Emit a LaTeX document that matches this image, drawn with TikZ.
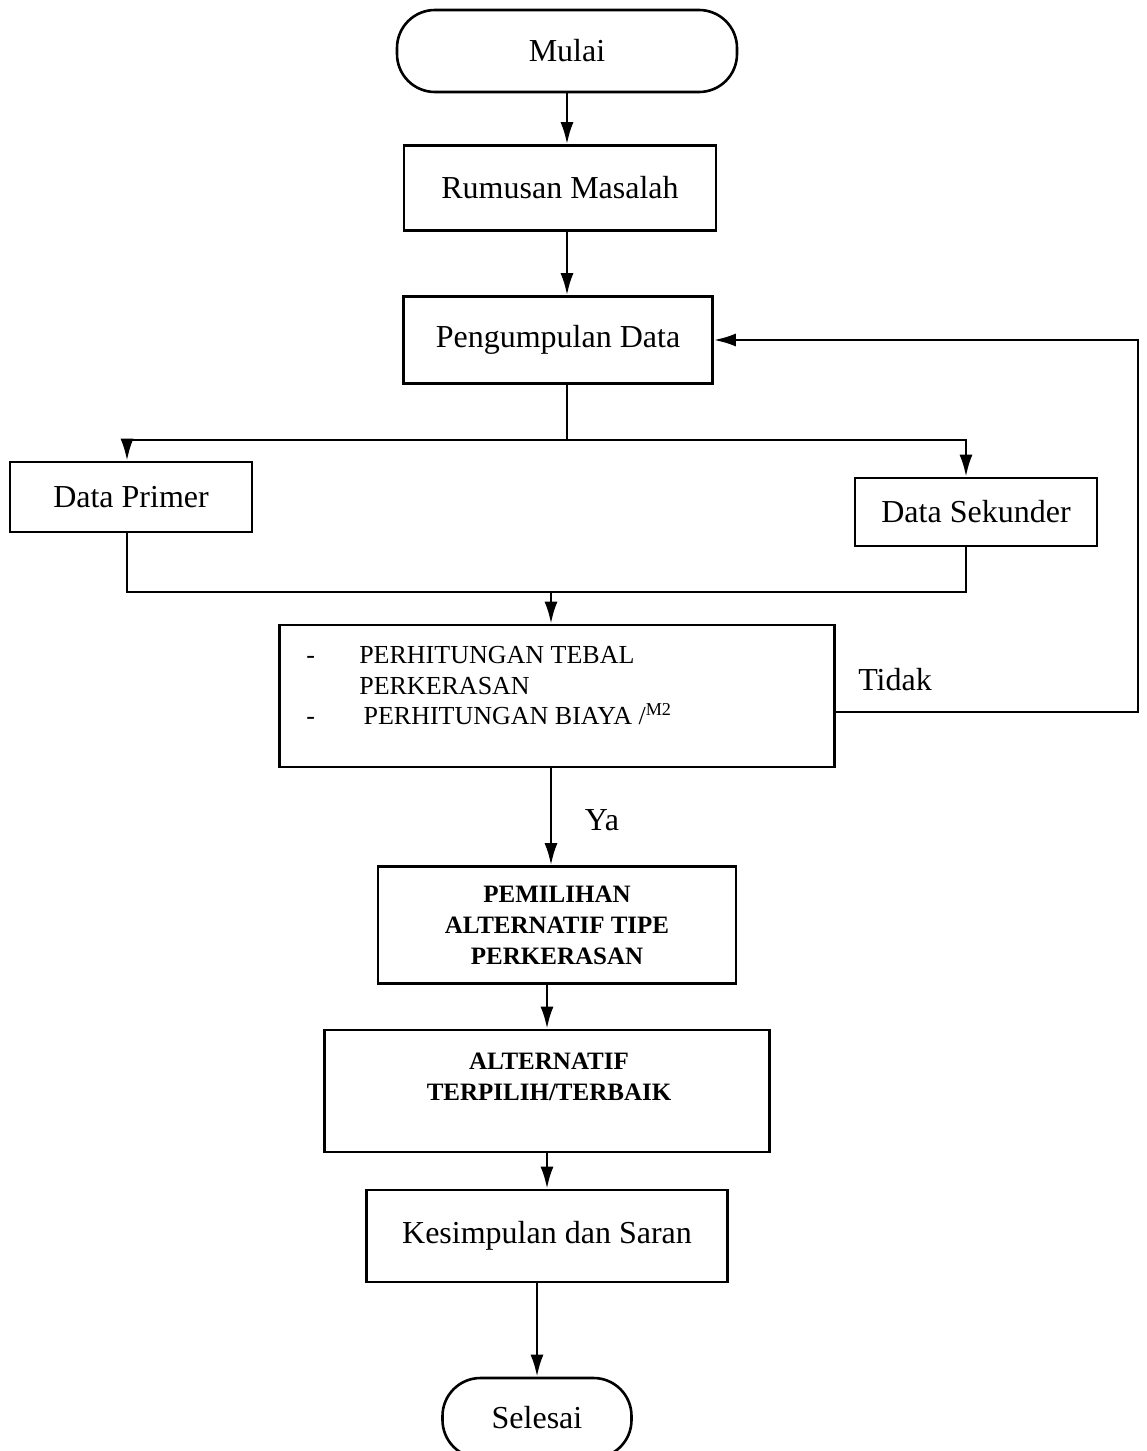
\documentclass[tikz,border=0pt]{standalone}
\usepackage{fontspec}
\setmainfont{Liberation Serif}
\usetikzlibrary{arrows.meta}

\begin{document}
\begin{tikzpicture}[x=1pt,y=-1pt,line width=2.6pt,
 block/.style={draw,line width=2.6pt,inner sep=0pt,font=\fontsize{32}{38}\selectfont},
 term/.style={block,rounded corners=38pt},
 caps/.style={inner sep=0pt,align=center,font=\fontsize{25}{31}\selectfont\bfseries},
 lbl/.style={inner sep=0pt,font=\fontsize{32}{38}\selectfont},
 arr/.style={-{Latex[length=22pt,width=13pt]}}]
\useasboundingbox (0,0) rectangle (1146,1451);
\node[term,minimum width=340,minimum height=82](mulai) at (567,51) {Mulai};
\node[block,minimum width=312,minimum height=85](rum) at (560,188) {Rumusan Masalah};
\node[block,minimum width=309,minimum height=87](pd) at (558,340) {Pengumpulan Data};
\node[block,minimum width=242,minimum height=70](dp) at (131,497) {Data Primer};
\node[block,minimum width=242,minimum height=68](ds) at (976,512) {Data Sekunder};
\node[block,minimum width=555,minimum height=142](calc) at (557,696) {};
\node[inner sep=0pt,anchor=west,font=\fontsize{26}{30.5}\selectfont](calctxt) at (305,688)
 {\begin{tabular}{@{}p{53pt}@{}l@{}}
 -&PERHITUNGAN TEBAL\\
 &PERKERASAN\\
 -&\,PERHITUNGAN BIAYA /\textsuperscript{M2}
 \end{tabular}};
\node[block,minimum width=358,minimum height=117](pem) at (557,925) {};
\node[caps](pemtxt) at (557,925) {PEMILIHAN\\ALTERNATIF TIPE\\PERKERASAN};
\node[block,minimum width=445,minimum height=122](alt) at (547,1091) {};
\node[caps](alttxt) at (549,1077) {ALTERNATIF\\TERPILIH/TERBAIK};
\node[block,minimum width=361,minimum height=92](kes) at (547,1236) {Kesimpulan dan Saran};
\node[term,minimum width=189,minimum height=80](sel) at (537,1418) {Selesai};
\node[lbl](tidak) at (895,680) {Tidak};
\node[lbl](ya) at (602,820) {Ya};
% cabang data
\coordinate (split) at (567,440);
\coordinate (merge) at (551,592);
\coordinate (back) at (1138,340);
\draw[arr] (mulai) -- (mulai |- rum.north);
\draw[arr] (rum.south -| mulai) -- (pd.north -| mulai);
\draw (pd.south -| split) -- (split);
\draw[arr] (split) -| ([xshift=-4pt]dp.north);
\draw[arr] (split) -| ([xshift=-10pt]ds.north);
\draw ([xshift=-4pt]dp.south) |- (merge) -| ([xshift=-10pt]ds.south);
\draw[arr] (merge) -- (calc.north -| merge);
\draw[arr] ([yshift=-16pt]calc.east) -| (back) |- (pd.east);
\draw[arr] ([xshift=-6pt]calc.south) -- ([xshift=-6pt]pem.north);
\draw[arr] (pem.south -| alt) -- (alt);
\draw[arr] (alt) -- (kes);
\draw[arr] (kes.south -| sel) -- (sel);
\end{tikzpicture}
\end{document}
